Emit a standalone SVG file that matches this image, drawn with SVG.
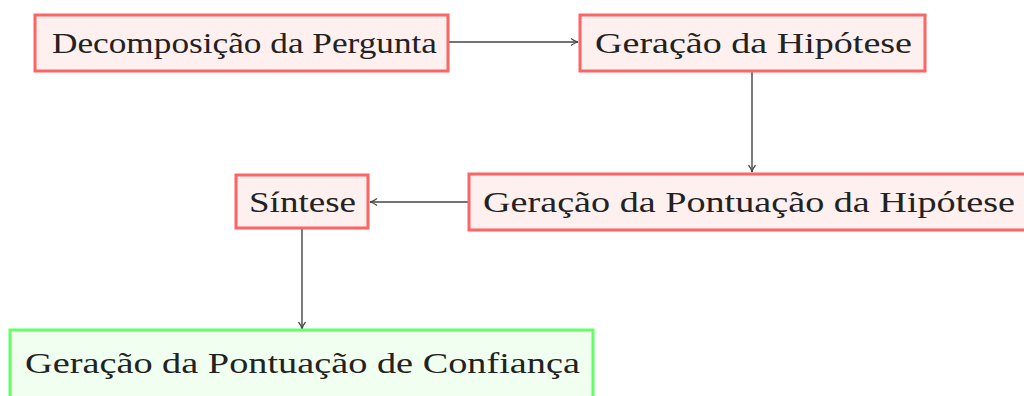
<svg xmlns="http://www.w3.org/2000/svg" width="1024" height="396" viewBox="0 0 1024 396">
<style>
.red{fill:#fff0f0;stroke:#ff6464;stroke-width:3}
.green{fill:#f0fff0;stroke:#64ff64;stroke-width:3}
.t{font-family:"Liberation Serif",serif;font-size:30px;fill:#222}
.c{fill:none;stroke:#444;stroke-width:1.4}
</style>
<defs>
<marker id="ah" viewBox="0 0 10 10" refX="9" refY="5" markerWidth="10" markerHeight="10" markerUnits="userSpaceOnUse" orient="auto">
<path d="M2,1.5 Q5,4 9,5 Q5,6 2,8.5" fill="none" stroke="#444" stroke-width="1.2"/>
</marker>
</defs>
<rect width="1024" height="396" fill="#fff"/>
<g id="connectors">
<line class="c" x1="449" y1="42" x2="578" y2="42" marker-end="url(#ah)"/>
<line class="c" x1="752" y1="72" x2="752" y2="172" marker-end="url(#ah)"/>
<line class="c" x1="468" y1="202" x2="370" y2="202" marker-end="url(#ah)"/>
<line class="c" x1="302" y1="229" x2="302" y2="329" marker-end="url(#ah)"/>
</g>
<g id="n1"><rect class="red" x="35" y="15" width="413" height="56"/><text class="t" x="52" y="53" textLength="385" lengthAdjust="spacingAndGlyphs">Decomposição da Pergunta</text></g>
<g id="n2"><rect class="red" x="580" y="15" width="345" height="56"/><text class="t" x="595" y="53" textLength="317" lengthAdjust="spacingAndGlyphs">Geração da Hipótese</text></g>
<g id="n3"><rect class="red" x="469" y="174" width="570" height="56"/><text class="t" x="483" y="212" textLength="532" lengthAdjust="spacingAndGlyphs">Geração da Pontuação da Hipótese</text></g>
<g id="n4"><rect class="red" x="236" y="175" width="132" height="53"/><text class="t" x="249" y="212" textLength="107" lengthAdjust="spacingAndGlyphs">Síntese</text></g>
<g id="n5"><rect class="green" x="10" y="330" width="583" height="80"/><text class="t" x="25" y="373" textLength="555" lengthAdjust="spacingAndGlyphs">Geração da Pontuação de Confiança</text></g>
</svg>
